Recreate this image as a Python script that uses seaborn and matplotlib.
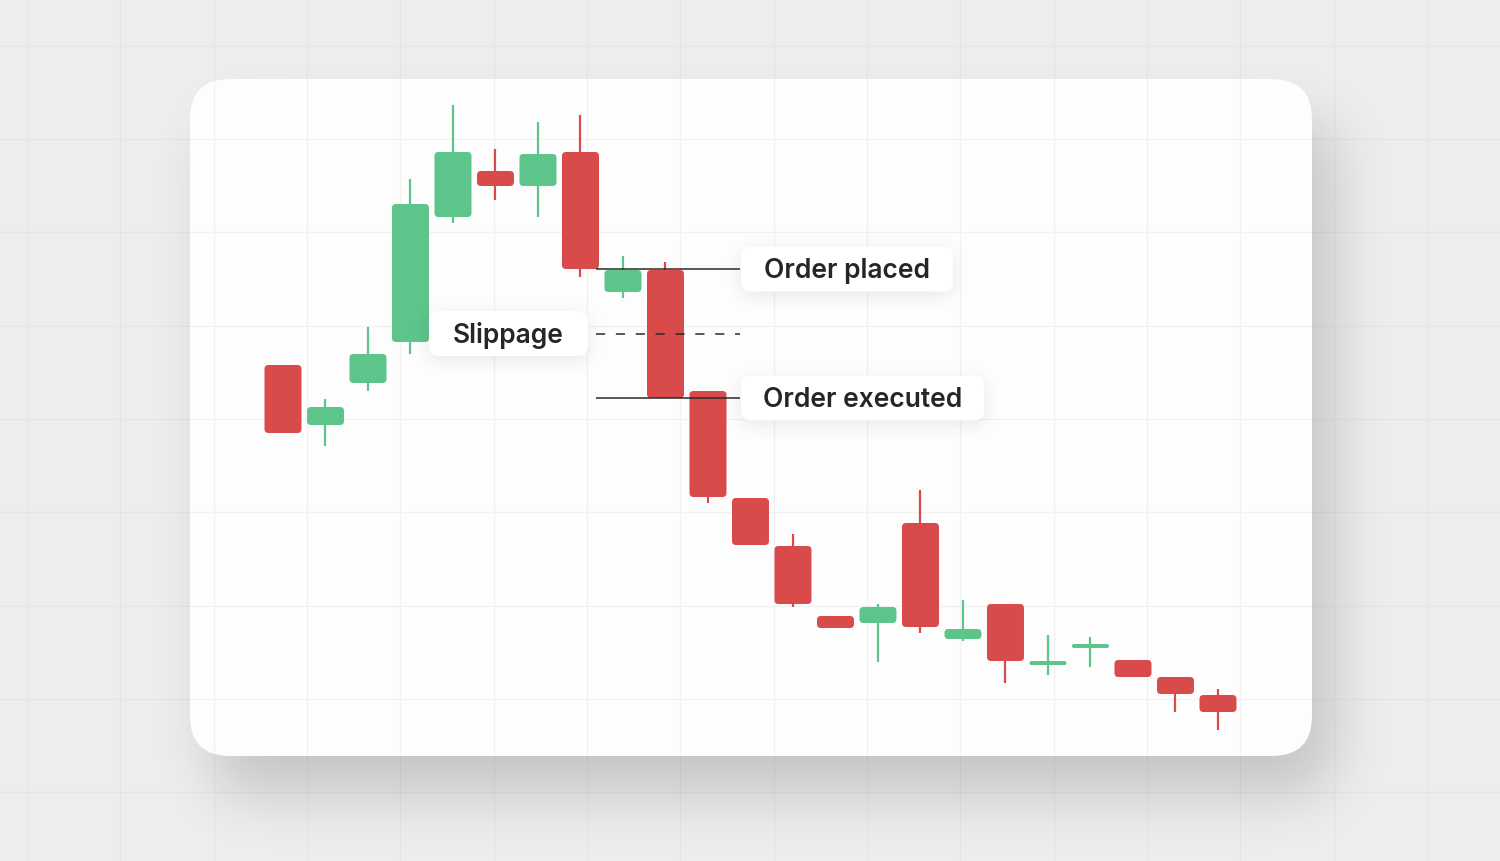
import numpy as np
import pandas as pd
import matplotlib
matplotlib.use("Agg")
import matplotlib.pyplot as plt
import seaborn as sns
from matplotlib.patches import FancyBboxPatch

# ---------------- data ----------------
candle = list(range(23))
open_ = [82.8, 70.8, 79.2, 87.4, 112.4, 121.6, 118.6, 125.4, 97.4, 101.8, 77.6, 56.2,
         46.6, 32.6, 31.2, 51.2, 28.0, 35.0, 22.8, 26.2, 23.8, 20.4, 16.8]
close = [69.2, 74.4, 85.0, 115.0, 125.4, 118.6, 125.0, 102.0, 101.8, 76.2, 56.4, 46.8,
         35.0, 30.2, 34.4, 30.4, 30.0, 23.6, 23.6, 27.0, 20.4, 17.0, 13.4]
high = [82.8, 76.0, 90.4, 120.0, 134.8, 126.0, 131.4, 132.8, 104.6, 103.4, 77.6, 56.2,
        49.0, 32.6, 35.0, 57.8, 35.8, 35.0, 28.8, 28.4, 23.8, 20.4, 18.0]
low = [69.2, 66.6, 77.6, 85.0, 111.2, 115.8, 112.4, 100.4, 96.2, 76.2, 55.2, 46.8,
       34.4, 30.2, 23.4, 29.2, 27.6, 19.2, 20.8, 22.4, 20.4, 13.4, 9.8]
order_placed = 102.0
order_executed = 76.2
label_placed = "Order placed"
label_executed = "Order executed"
label_slippage = "Slippage"

# ---------------- style ----------------
RED = "#d94b4b"
GREEN = "#5dc48b"
BG = "#ededed"
CARD = "#fdfdfd"
W, H = 1500, 862

sns.set_theme(style="white")
plt.rcParams["font.family"] = ["Inter", "DejaVu Sans"]

fig = plt.figure(figsize=(W / 100, H / 100), dpi=100, facecolor=BG)

# background axes in pixel coordinates
bg = fig.add_axes([0, 0, 1, 1], zorder=0)
bg.set_xlim(0, W)
bg.set_ylim(H, 0)
bg.axis("off")


def rounded_mask(x0, y0, x1, y1, r):
    yy, xx = np.mgrid[0:H, 0:W].astype(float) + 0.5
    cx = np.clip(xx, x0 + r, x1 - r)
    cy = np.clip(yy, y0 + r, y1 - r)
    d = np.hypot(xx - cx, yy - cy)
    return np.clip(r - d + 0.5, 0, 1)


def gblur(a, s):
    k = np.arange(-int(3 * s), int(3 * s) + 1)
    g = np.exp(-k ** 2 / (2 * s * s))
    g /= g.sum()
    a = np.apply_along_axis(lambda r: np.convolve(r, g, mode="same"), 1, a)
    a = np.apply_along_axis(lambda c: np.convolve(c, g, mode="same"), 0, a)
    return a


# outer grid
gx = [27 + 93.33 * k for k in range(16)]
gy = [46.7 + 93.33 * k for k in range(9)]
for x in gx:
    bg.axvline(x, color="#e4e4e4", lw=0.8, zorder=1)
for y in gy:
    bg.axhline(y, color="#e4e4e4", lw=0.8, zorder=1)

# card shadow
cx0, cy0, cx1, cy1, cr = 190, 80, 1312, 757, 40
sh = gblur(rounded_mask(cx0 + 22, cy0 + 40, cx1 + 22, cy1 + 38, cr), 28)
rgba = np.zeros((H, W, 4))
rgba[..., 3] = sh * 0.17
bg.imshow(rgba, extent=(0, W, H, 0), origin="upper", aspect="auto", zorder=2,
          interpolation="bilinear")

card = FancyBboxPatch((cx0, cy0), cx1 - cx0, cy1 - cy0,
                      boxstyle=f"round,pad=0,rounding_size={cr}",
                      fc=CARD, ec="none", zorder=3)
bg.add_patch(card)
for x in gx:
    ln = bg.axvline(x, color="#f1f1f1", lw=0.9, zorder=4)
    ln.set_clip_path(card)
for y in gy:
    ln = bg.axhline(y, color="#f1f1f1", lw=0.9, zorder=4)
    ln.set_clip_path(card)
bg.set_xlim(0, W)
bg.set_ylim(H, 0)

# ---------------- candlestick axes ----------------
ax = fig.add_axes([cx0 / W, (H - cy1) / H, (cx1 - cx0) / W, (cy1 - cy0) / H], zorder=1)
ax.patch.set_alpha(0)
XMIN, XMAX = -2.188, 24.212
YMIN, YMAX = 4.6, 140.0
px_x = (XMAX - XMIN) / (cx1 - cx0)   # x data units per pixel
px_y = (YMAX - YMIN) / (cy1 - cy0)   # y data units per pixel
asp = px_y / px_x

df = pd.DataFrame({"candle": candle, "open": open_, "close": close,
                   "high": high, "low": low})
df["dir"] = np.where(df["close"] >= df["open"], "up", "down")
wick = pd.concat([
    df[["candle", "dir"]].assign(price=df["low"]),
    df[["candle", "dir"]].assign(price=df["high"]),
]).sort_values("candle")

sns.lineplot(data=wick, x="candle", y="price", units="candle", estimator=None,
             hue="dir", palette={"up": GREEN, "down": RED}, lw=1.6,
             legend=False, sort=False, ax=ax, zorder=2, solid_capstyle="butt")

body_w = 37 * px_x
r_base = 4 * px_x
for _, row in df.iterrows():
    lo = min(row["open"], row["close"])
    hgt = abs(row["close"] - row["open"])
    r = min(r_base, hgt / asp / 2 * 0.98)
    col = GREEN if row["dir"] == "up" else RED
    ax.add_patch(FancyBboxPatch((row["candle"] - body_w / 2, lo), body_w, hgt,
                                boxstyle=f"round,pad=0,rounding_size={r}",
                                mutation_aspect=asp, fc=col, ec="none", zorder=3))

# order lines
lx0, lx1 = (596 - 283) / 42.5, (740 - 283) / 42.5
mid = (order_placed + order_executed) / 2
ax.hlines([order_placed, order_executed], lx0, lx1, color="#2a2a2a", lw=1.1, zorder=4)
ax.hlines([mid], lx0, lx1, color="#2a2a2a", lw=1.1, linestyles=(0, (6, 7)), zorder=4)

ax.set_xlim(XMIN, XMAX)
ax.set_ylim(YMIN, YMAX)
ax.axis("off")

# ---------------- labels (overlay axes, pixel coords) ----------------
ov = fig.add_axes([0, 0, 1, 1], zorder=2)
ov.patch.set_alpha(0)
ov.set_xlim(0, W)
ov.set_ylim(H, 0)
ov.axis("off")


def ypix(v):
    return H - ax.transData.transform((0, v))[1]


labels = [
    (label_slippage, 429, 588, ypix(mid)),
    (label_placed, 741, 953, ypix(order_placed)),
    (label_executed, 741, 984, ypix(order_executed)),
]
bh = 45
lmask = np.zeros((H, W))
for _, x0, x1, yc in labels:
    lmask = np.maximum(lmask, rounded_mask(x0, yc - bh / 2 + 4, x1, yc + bh / 2 + 4, 10))
lsh = gblur(lmask, 9)
rgba2 = np.zeros((H, W, 4))
rgba2[..., 3] = lsh * 0.09
ov.imshow(rgba2, extent=(0, W, H, 0), origin="upper", aspect="auto", zorder=1,
          interpolation="bilinear")

for text, x0, x1, yc in labels:
    ov.add_patch(FancyBboxPatch((x0, yc - bh / 2), x1 - x0, bh,
                                boxstyle="round,pad=0,rounding_size=10",
                                fc="white", ec="none", zorder=2))
    ov.text((x0 + x1) / 2, yc + 1, text, ha="center", va="center",
            fontsize=19, fontweight="semibold", color="#262626", zorder=3)

ov.set_xlim(0, W)
ov.set_ylim(H, 0)

fig.savefig("out.png", dpi=100, facecolor=BG)
